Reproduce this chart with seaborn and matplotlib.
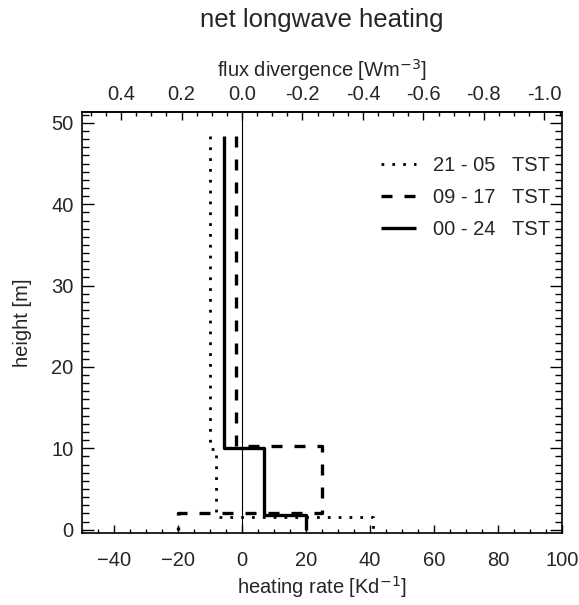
import numpy as np
import pandas as pd
import matplotlib
matplotlib.use("Agg")
import matplotlib.pyplot as plt
import seaborn as sns
from matplotlib.ticker import MultipleLocator, FixedLocator

# ---------------- data ----------------
labels = ["21 - 05   TST", "09 - 17   TST", "00 - 24   TST"]
# layer boundaries (m), bottom to top
bounds_night = [0.0, 1.5, 9.9, 48.4]
bounds_day = [0.0, 2.0, 10.3, 48.4]
bounds_all = [0.0, 1.8, 10.0, 48.4]
# heating rate in each layer (K/d), bottom to top
rate_night = [41, -8, -10]
rate_day = [-20, 25, -2]
rate_all = [20, 7, -5.5]

flux_ticks = [0.4, 0.2, 0.0, -0.2, -0.4, -0.6, -0.8, -1.0]
heat_ticks = [-40, -20, 0, 20, 40, 60, 80, 100]
height_ticks = [0, 10, 20, 30, 40, 50]
conv = 94.5  # K/d per W m-3 (flux divergence -> heating)


def step_frame(bounds, rates, name):
    xs, ys = [], []
    for i in range(len(rates) - 1, -1, -1):
        xs += [rates[i], rates[i]]
        ys += [bounds[i + 1], bounds[i]]
    return pd.DataFrame({"rate": xs, "height": ys, "series": name})


df_night = step_frame(bounds_night, rate_night, labels[0])
df_day = step_frame(bounds_day, rate_day, labels[1])
df_all = step_frame(bounds_all, rate_all, labels[2])

# ---------------- style ----------------
sns.set_style("ticks")
plt.rcParams["font.family"] = ["Liberation Sans", "DejaVu Sans"]
txt = "#262626"
plt.rcParams["text.color"] = txt
plt.rcParams["axes.labelcolor"] = txt
plt.rcParams["xtick.color"] = "black"
plt.rcParams["ytick.color"] = "black"
plt.rcParams["xtick.labelcolor"] = txt
plt.rcParams["ytick.labelcolor"] = txt

fig = plt.figure(figsize=(5.79, 6.05), dpi=100)
ax = fig.add_axes([82 / 579, 1 - 532.5 / 605, (562 - 82) / 579, (532.5 - 112.3) / 605])

ax.axvline(0, color="black", lw=0.8, zorder=1)

sns.lineplot(data=df_night, x="rate", y="height", sort=False, estimator=None,
             color="black", lw=2.0, dashes=False, ax=ax, label=labels[0])
ax.lines[-1].set_dashes([1, 2.9])
sns.lineplot(data=df_day, x="rate", y="height", sort=False, estimator=None,
             color="black", lw=2.4, ax=ax, label=labels[1])
ax.lines[-1].set_dashes([3.3, 3.6])
sns.lineplot(data=df_all, x="rate", y="height", sort=False, estimator=None,
             color="black", lw=2.4, ax=ax, label=labels[2])

for l in ax.lines:
    l.set_solid_capstyle("butt")
    l.set_dash_capstyle("butt")

ax.set_xlim(-50, 100)
ax.set_ylim(-0.35, 51.3)

fs = 14.5
ax.xaxis.set_major_locator(FixedLocator(heat_ticks))
ax.xaxis.set_minor_locator(MultipleLocator(5))
ax.yaxis.set_major_locator(FixedLocator(height_ticks))
ax.yaxis.set_minor_locator(MultipleLocator(1))
ax.tick_params(axis="x", which="major", direction="in", length=5.5, width=1, top=False,
               labelsize=fs, pad=13)
ax.tick_params(axis="x", which="minor", direction="in", length=3, width=1, top=False)
ax.tick_params(axis="y", which="major", direction="in", length=8.5, width=1, right=True,
               labelsize=fs, pad=6)
ax.tick_params(axis="y", which="minor", direction="in", length=5, width=1, right=True)

for s in ax.spines.values():
    s.set_linewidth(1.2)
    s.set_color("black")

ax.set_xlabel("heating rate [Kd$^{-1}$]", fontsize=fs, labelpad=3)
ax.set_ylabel("height [m]", fontsize=fs, labelpad=14)

sec = ax.secondary_xaxis("top", functions=(lambda h: -h / conv, lambda f: -f * conv))
sec.xaxis.set_major_locator(FixedLocator(flux_ticks))
sec.xaxis.set_minor_locator(MultipleLocator(0.05))
sec.xaxis.set_major_formatter(matplotlib.ticker.FormatStrFormatter("%.1f"))
sec.tick_params(which="major", direction="in", length=5.5, width=1, labelsize=fs, pad=6)
sec.tick_params(which="minor", direction="in", length=3, width=1)
sec.spines["top"].set_linewidth(1.2)
sec.set_xlabel("flux divergence [Wm$^{-3}$]", fontsize=fs, labelpad=6)

leg = ax.legend(loc="upper right", bbox_to_anchor=(1.0, 0.925), frameon=False,
                fontsize=fs, handlelength=1.7, handletextpad=0.85, labelspacing=0.65,
                borderaxespad=0.2)

fig.text(322 / 579, 1 - 20 / 605, "net longwave heating", ha="center", va="center",
         fontsize=18.5, color=txt)

fig.savefig("out.png", dpi=100)
